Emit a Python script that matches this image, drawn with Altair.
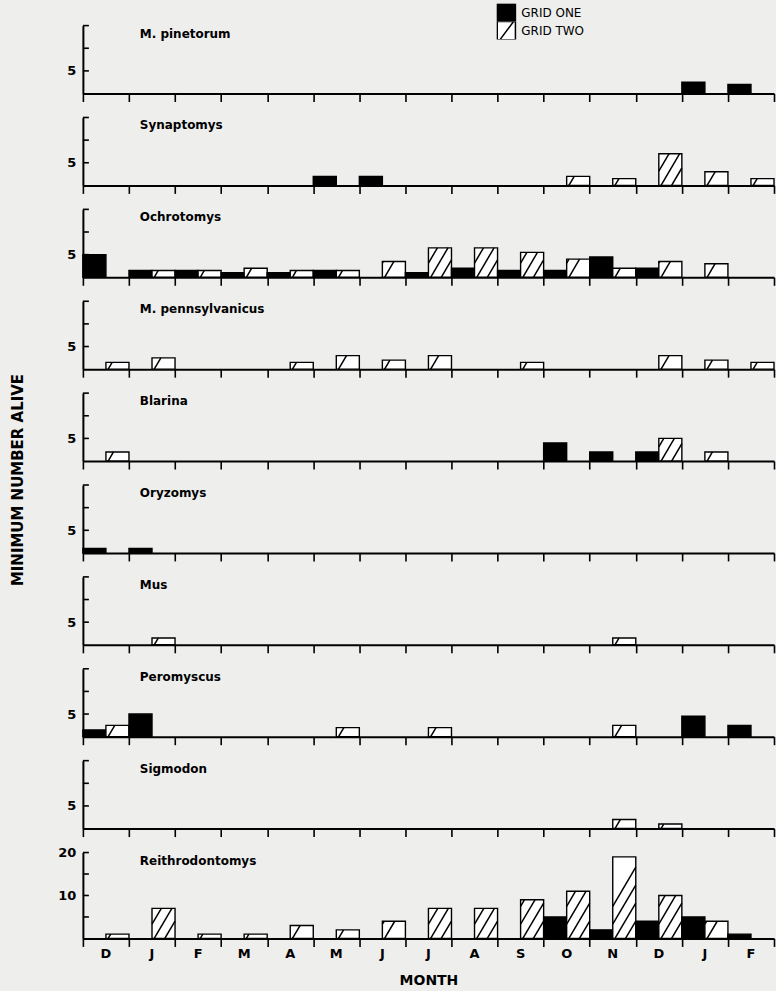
import altair as alt
import pandas as pd

months = ["D", "J", "F", "M", "A", "M", "J", "J", "A", "S", "O", "N", "D", "J", "F"]
grid_labels = ["GRID ONE", "GRID TWO"]

# Minimum number alive per month (Dec ... Feb), Grid One and Grid Two
pinetorum_one = [0, 0, 0, 0, 0, 0, 0, 0, 0, 0, 0, 0, 0, 2.5, 2]
pinetorum_two = [0, 0, 0, 0, 0, 0, 0, 0, 0, 0, 0, 0, 0, 0, 0]
synaptomys_one = [0, 0, 0, 0, 0, 2, 2, 0, 0, 0, 0, 0, 0, 0, 0]
synaptomys_two = [0, 0, 0, 0, 0, 0, 0, 0, 0, 0, 2, 1.5, 7, 3, 1.5]
ochrotomys_one = [5, 1.5, 1.5, 1, 1, 1.5, 0, 1, 2, 1.5, 1.5, 4.5, 2, 0, 0]
ochrotomys_two = [0, 1.5, 1.5, 2, 1.5, 1.5, 3.5, 6.5, 6.5, 5.5, 4, 2, 3.5, 3, 0]
pennsylvanicus_one = [0, 0, 0, 0, 0, 0, 0, 0, 0, 0, 0, 0, 0, 0, 0]
pennsylvanicus_two = [1.5, 2.5, 0, 0, 1.5, 3, 2, 3, 0, 1.5, 0, 0, 3, 2, 1.5]
blarina_one = [0, 0, 0, 0, 0, 0, 0, 0, 0, 0, 4, 2, 2, 0, 0]
blarina_two = [2, 0, 0, 0, 0, 0, 0, 0, 0, 0, 0, 0, 5, 2, 0]
oryzomys_one = [1, 1, 0, 0, 0, 0, 0, 0, 0, 0, 0, 0, 0, 0, 0]
oryzomys_two = [0, 0, 0, 0, 0, 0, 0, 0, 0, 0, 0, 0, 0, 0, 0]
mus_one = [0, 0, 0, 0, 0, 0, 0, 0, 0, 0, 0, 0, 0, 0, 0]
mus_two = [0, 1.5, 0, 0, 0, 0, 0, 0, 0, 0, 0, 1.5, 0, 0, 0]
peromyscus_one = [1.5, 5, 0, 0, 0, 0, 0, 0, 0, 0, 0, 0, 0, 4.5, 2.5]
peromyscus_two = [2.5, 0, 0, 0, 0, 2, 0, 2, 0, 0, 0, 2.5, 0, 0, 0]
sigmodon_one = [0, 0, 0, 0, 0, 0, 0, 0, 0, 0, 0, 0, 0, 0, 0]
sigmodon_two = [0, 0, 0, 0, 0, 0, 0, 0, 0, 0, 0, 2, 1, 0, 0]
reithro_one = [0, 0, 0, 0, 0, 0, 0, 0, 0, 0, 5, 2, 4, 5, 1]
reithro_two = [1, 7, 1, 1, 3, 2, 4, 7, 7, 9, 11, 19, 10, 4, 0]

series = [
    ("M. pinetorum", pinetorum_one, pinetorum_two),
    ("Synaptomys", synaptomys_one, synaptomys_two),
    ("Ochrotomys", ochrotomys_one, ochrotomys_two),
    ("M. pennsylvanicus", pennsylvanicus_one, pennsylvanicus_two),
    ("Blarina", blarina_one, blarina_two),
    ("Oryzomys", oryzomys_one, oryzomys_two),
    ("Mus", mus_one, mus_two),
    ("Peromyscus", peromyscus_one, peromyscus_two),
    ("Sigmodon", sigmodon_one, sigmodon_two),
    ("Reithrodontomys", reithro_one, reithro_two),
]

FONT = "DejaVu Sans"
W = 692
H_SMALL = 68
H_BIG = 86
GAP = 24
NM = len(months)
ppm = W / NM
HATCH_PATH = "M-1,-1H1V1H-1ZM-0.7,1L0.8,-1"


def hatch_segments(x0, x1, h, s=1.7, d=18.0, phase=7.0):
    segs = []
    w = x1 - x0
    c = -w * s + phase
    while c < h:
        xa = max(x0, x0 + c / s)
        xb = min(x1, x0 + (h + c) / s)
        if xb - xa > 0.8:
            segs.append((xa, s * (xa - x0) - c, xb, s * (xb - x0) - c))
        c += d
    return segs


fill_scale = alt.Scale(domain=grid_labels, range=["black", "white"])

panels = []
for k, (name, one, two) in enumerate(series):
    big = name == "Reithrodontomys"
    dmax = 20 if big else 15
    H = H_BIG if big else H_SMALL
    ppu = H / dmax
    bottom = k == len(series) - 1
    rows, segs = [], []
    for i in range(NM):
        if one[i] > 0:
            rows.append({"grid": "GRID ONE", "start": i, "end": i + 0.5, "value": one[i], "base": 0})
        if two[i] > 0:
            rows.append({"grid": "GRID TWO", "start": i + 0.5, "end": i + 1, "value": two[i], "base": 0})
            for xa, ya, xb, yb in hatch_segments((i + 0.5) * ppm, (i + 1) * ppm, two[i] * ppu):
                segs.append({"hx": xa / ppm, "hy": ya / ppu, "hx2": xb / ppm, "hy2": yb / ppu})
    bars_df = pd.DataFrame(rows)

    xs = alt.Scale(domain=[0, NM], nice=False, zero=False)
    ys = alt.Scale(domain=[0, dmax], nice=False)
    xkw = dict(values=list(range(NM + 1)), tickSize=8, tickWidth=1.6, tickColor="black",
               domainColor="black", domainWidth=2, grid=False, labels=False)
    if bottom:
        xkw.update(titleFont=FONT, titleFontSize=14, titleFontWeight="bold", titleColor="black",
                   titlePadding=26)
    xaxis = alt.Axis(**xkw)

    yvals = [5, 10, 15, 20] if big else [5, 10, 15]
    ylab = "datum.value % 10 == 0 ? datum.label : ''" if big else "datum.value == 5 ? '5' : ''"
    yaxis = alt.Axis(values=yvals, labelExpr=ylab, ticks=False,
                     domainColor="black", domainWidth=2, grid=False, labelFont=FONT,
                     labelFontSize=13, labelFontWeight="bold", labelColor="black", labelPadding=7)
    xtitle = "MONTH" if bottom else None

    if k == 0:
        fill_legend = alt.Legend(orient="none", legendX=414, legendY=-22, title=None,
                                 symbolType=HATCH_PATH, symbolSize=330, clipHeight=18,
                                 symbolStrokeColor="black", symbolStrokeWidth=1.5,
                                 rowPadding=0, labelFont=FONT, labelFontSize=12,
                                 labelColor="black", labelOffset=5)
    else:
        fill_legend = None

    bars = alt.Chart(bars_df).mark_rect(stroke="black", strokeWidth=1.4).encode(
        x=alt.X("start:Q", scale=xs, axis=xaxis, title=xtitle),
        x2="end:Q",
        y=alt.Y("value:Q", scale=ys, axis=yaxis, title=None),
        y2="base:Q",
        fill=alt.Fill("grid:N", scale=fill_scale, legend=fill_legend),
    )
    layers = [bars]
    if segs:
        hatch = alt.Chart(pd.DataFrame(segs)).mark_rule(color="black", strokeWidth=1.5).encode(
            x=alt.X("hx:Q", scale=xs, axis=xaxis, title=xtitle),
            x2="hx2:Q",
            y=alt.Y("hy:Q", scale=ys, axis=yaxis, title=None),
            y2="hy2:Q",
        )
        layers.append(hatch)
    # inward-pointing y ticks, as in the original figure
    yticks = alt.Chart(pd.DataFrame({"tv": yvals})).mark_rule(color="black", strokeWidth=1.6).encode(
        y=alt.Y("tv:Q", scale=ys, axis=yaxis, title=None),
        x=alt.value(0), x2=alt.value(6),
    )
    layers.append(yticks)
    label = alt.Chart(pd.DataFrame({"label": [name]})).mark_text(
        align="left", baseline="top", font=FONT, fontSize=12, fontWeight="bold", color="black"
    ).encode(x=alt.value(57), y=alt.value(3), text="label:N")
    layers.append(label)
    if k == 4:
        ytitle = alt.Chart(pd.DataFrame({"t": ["MINIMUM NUMBER ALIVE"]})).mark_text(
            angle=270, align="center", baseline="middle", font=FONT, fontSize=15,
            fontWeight="bold", color="black"
        ).encode(x=alt.value(-65), y=alt.value(H_SMALL + 19), text="t:N")
        layers.append(ytitle)
    if bottom:
        mdf = pd.DataFrame({"month": months, "mid": [i + 0.5 for i in range(NM)]})
        mlab = alt.Chart(mdf).mark_text(
            align="center", baseline="middle", font=FONT, fontSize=13, fontWeight="bold", color="black"
        ).encode(x=alt.X("mid:Q", scale=xs, axis=xaxis, title=xtitle),
                 y=alt.value(H_BIG + 16), text="month:N")
        layers.append(mlab)
    panels.append(alt.layer(*layers).properties(width=W, height=H))

chart = alt.vconcat(*panels, spacing=GAP, bounds="flush").properties(
    padding={"left": 10, "top": 3, "right": 1, "bottom": 3},
    background="#eeeeec",
).configure_view(stroke=None)

chart.save("out.html", embed_options={"renderer": "svg", "actions": False})
